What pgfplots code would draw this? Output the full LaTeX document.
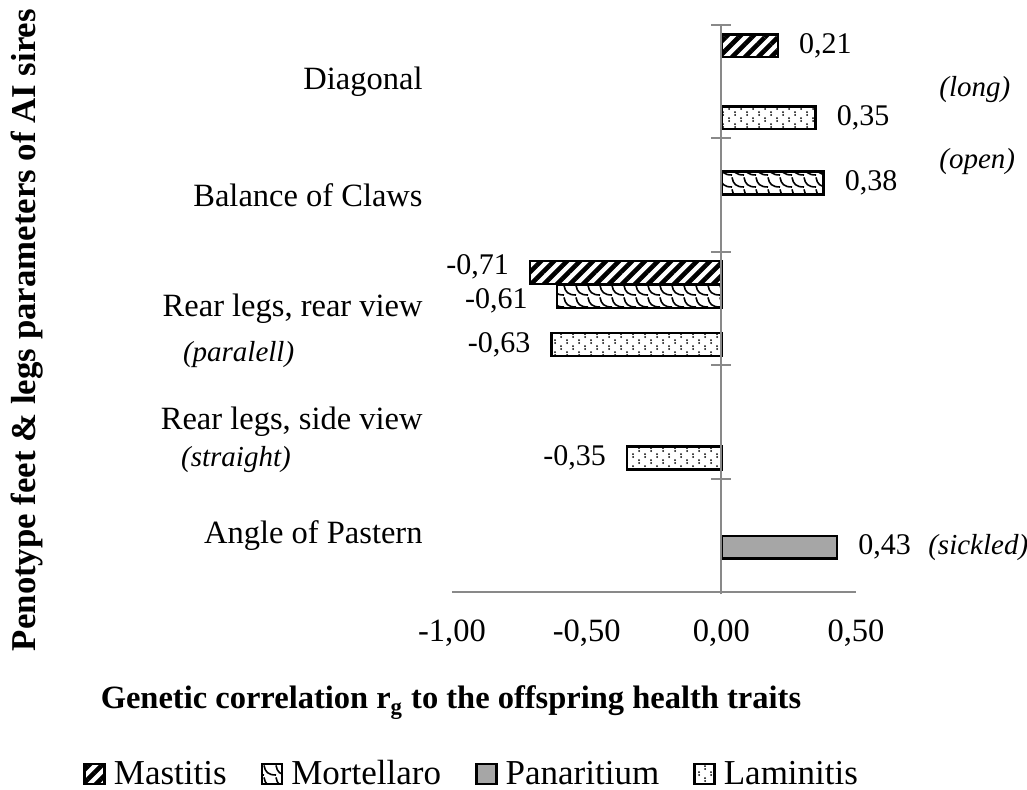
\documentclass[border=0pt]{standalone}
\usepackage{fontspec}
\setmainfont{Liberation Serif}
\usepackage{pgfplots}
\pgfplotsset{compat=1.18}
\usetikzlibrary{patterns,patterns.meta}
\definecolor{axgray}{RGB}{137,137,137}
\definecolor{pangray}{RGB}{166,166,166}

\pgfdeclarepatternformonly{lamdots}{\pgfqpoint{-1pt}{-1pt}}{\pgfqpoint{7pt}{7pt}}{\pgfqpoint{6pt}{6pt}}{%
  \pgfpathcircle{\pgfqpoint{1.5pt}{1pt}}{0.5pt}%
  \pgfpathcircle{\pgfqpoint{1.5pt}{2.4pt}}{0.5pt}%
  \pgfpathcircle{\pgfqpoint{4.5pt}{4pt}}{0.5pt}%
  \pgfpathcircle{\pgfqpoint{4.5pt}{5.4pt}}{0.5pt}%
  \pgfusepath{fill}}
\pgfdeclarepatternformonly{scales}{\pgfqpoint{-1pt}{-1pt}}{\pgfqpoint{7pt}{7pt}}{\pgfqpoint{6pt}{6pt}}{%
  \pgfsetlinewidth{0.8pt}%
  \pgfpathmoveto{\pgfqpoint{0pt}{5.8pt}}%
  \pgfpathcurveto{\pgfqpoint{0.6pt}{2.5pt}}{\pgfqpoint{2pt}{1pt}}{\pgfqpoint{6pt}{1pt}}%
  \pgfusepath{stroke}}

\begin{document}
\begin{tikzpicture}
\path[use as bounding box] (-226pt,-98.5pt) rectangle (287.5pt,296pt);
\begin{axis}[
  at={(0pt,0pt)}, anchor=south west,
  scale only axis, width=202pt, height=283.5pt,
  xmin=-1, xmax=0.5, ymin=-0.5, ymax=4.5,
  xbar, bar width=0.2,
  clip=false,
  axis line style={draw=none},
  major tick length=0pt,
  xtick={-1,-0.5,0,0.5},
  ytick={0,1,2,3,4},
  yticklabels={Angle of Pastern,{Rear legs, side view},{Rear legs, rear view},Balance of Claws,Diagonal},
  /pgf/number format/.cd, use comma, fixed, fixed zerofill, precision=2, assume math mode=true,
  /pgfplots/.cd,
  xticklabel style={font=\fontsize{16.25}{19.5}\selectfont, anchor=base, inner sep=0pt, yshift=-24.5pt},
  yticklabel style={font=\fontsize{16.25}{19.5}\selectfont, anchor=east, inner sep=0pt, xshift=-14.5pt},
  point meta=x,
  nodes near coords,
  nodes near coords align={horizontal},
  every node near coord/.append style={font=\fontsize{15}{18}\selectfont, text=black, inner sep=0pt, inner xsep=10pt},
  legend columns=-1,
  legend style={at={(axis description cs:-0.9134,-0.321)}, anchor=west, draw=none, inner sep=0pt,
    font=\fontsize{17.5}{21}\selectfont, nodes={inner sep=1pt},
    /tikz/every even column/.append style={column sep=16pt},
    /tikz/every odd column/.append style={column sep=3pt}},
  legend image code/.code={\draw[#1] (0pt,-5pt) rectangle (10pt,5pt);},
]
% Mastitis
\addplot[draw=black, line width=1.3pt, pattern={Lines[angle=45,distance=4.6pt,line width=2.3pt]}, pattern color=black, bar shift=0.3175]
  coordinates {(0.21,4)};
\addplot[forget plot, draw=black, line width=1.3pt, pattern={Lines[angle=45,distance=4.6pt,line width=2.3pt]}, pattern color=black, bar shift=0.3175,
  every node near coord/.append style={yshift=3pt}]
  coordinates {(-0.71,2)};
% Mortellaro
\addplot[draw=black, line width=1.3pt, pattern=scales, pattern color=black, bar shift=0.1058]
  coordinates {(0.38,3)};
\addplot[forget plot, draw=black, line width=1.3pt, pattern=scales, pattern color=black, bar shift=0.1058,
  every node near coord/.append style={yshift=-2pt, xshift=-4pt}]
  coordinates {(-0.61,2)};
% Panaritium
\addplot[draw=black, line width=1.3pt, fill=pangray, bar shift=-0.1058]
  coordinates {(0.43,0)};
% Laminitis
\addplot[draw=black, line width=1.3pt, pattern=lamdots, pattern color=black, bar shift=-0.3175]
  coordinates {(0.35,4) (-0.63,2) (-0.35,1)};
\legend{Mastitis,Mortellaro,Panaritium,Laminitis}

\draw[axgray, line width=1pt] (axis cs:-1,-0.5) -- (axis cs:0.5,-0.5);
\draw[axgray, line width=1pt] (axis cs:0,-0.52) -- (axis cs:0,4.5);
\draw[axgray, line width=1pt] ([xshift=-5pt]axis cs:0,4.5) -- ([xshift=5pt]axis cs:0,4.5);
\draw[axgray, line width=1pt] ([xshift=-5pt]axis cs:0,3.5) -- ([xshift=5pt]axis cs:0,3.5);
\draw[axgray, line width=1pt] ([xshift=-5pt]axis cs:0,2.5) -- ([xshift=5pt]axis cs:0,2.5);
\draw[axgray, line width=1pt] ([xshift=-5pt]axis cs:0,1.5) -- ([xshift=5pt]axis cs:0,1.5);
\draw[axgray, line width=1pt] ([xshift=-5pt]axis cs:0,0.5) -- ([xshift=5pt]axis cs:0,0.5);

\node[anchor=west, font=\itshape\fontsize{14.5}{17}\selectfont, inner sep=0pt] at (axis cs:-2.0,1.59) {(paralell)};
\node[anchor=west, font=\itshape\fontsize{14.5}{17}\selectfont, inner sep=0pt] at (axis cs:-2.007,0.664) {(straight)};
\node[anchor=west, font=\itshape\fontsize{14.5}{17}\selectfont, inner sep=0pt] at (axis cs:0.808,3.927) {(long)};
\node[anchor=west, font=\itshape\fontsize{14.5}{17}\selectfont, inner sep=0pt] at (axis cs:0.808,3.292) {(open)};
\node[anchor=west, font=\itshape\fontsize{14.5}{17}\selectfont, inner sep=0pt] at (axis cs:0.767,-0.112) {(sickled)};

\node[rotate=90, font=\bfseries\fontsize{17.4}{21}\selectfont, inner sep=0pt] at (axis description cs:-1.052,0.462) {Penotype feet \& legs parameters of AI sires};
\node[anchor=base, font=\bfseries\fontsize{16.25}{19.5}\selectfont, inner sep=0pt] at (axis description cs:-0.0025,-0.2063) {Genetic correlation r\textsubscript{g} to the offspring health traits};
\end{axis}
\end{tikzpicture}
\end{document}
